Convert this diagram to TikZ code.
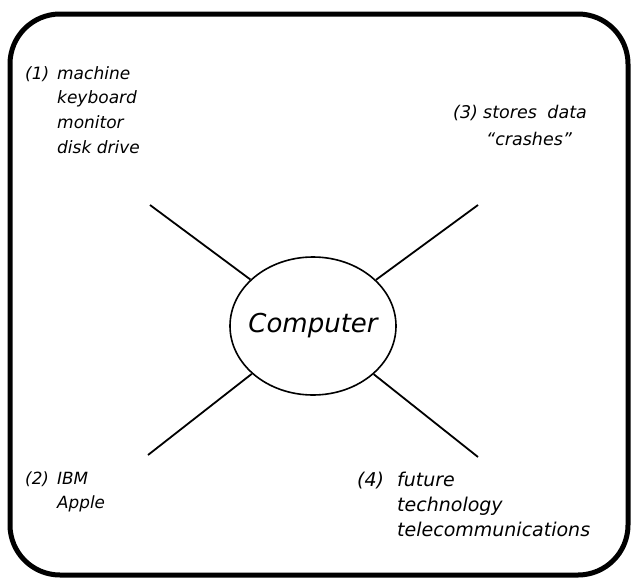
\documentclass[tikz,border=0pt]{standalone}
\usepackage{fontspec}
\setmainfont{DejaVu Sans}
\usetikzlibrary{shapes.geometric}
\tikzset{
  lbl/.style={anchor=base west, inner sep=0pt, font=\fontsize{17}{24.8}\selectfont\itshape},
  conn/.style={line width=1.8pt},
}
\newcommand{\grp}[2]{\begin{tabular}[t]{@{}p{#1}@{}l@{}}#2\end{tabular}}
\begin{document}
\begin{tikzpicture}[x=1pt,y=-1pt]
\useasboundingbox (0,0) rectangle (632,579);
\draw[line width=5pt, rounded corners=50pt] (10,14) rectangle (628,575);
\node[ellipse, draw, line width=1.6pt, minimum width=166pt, minimum height=138pt, inner sep=0pt, font=\fontsize{26}{28}\selectfont\itshape] (C) at (313,326) {\makebox[0pt]{Computer}};
\coordinate (tl) at (150,205);
\coordinate (tr) at (478,205);
\coordinate (bl) at (148,455);
\coordinate (br) at (478,457);
\draw[conn] (tl) -- (C);
\draw[conn] (tr) -- (C);
\draw[conn] (bl) -- (C);
\draw[conn] (br) -- (C);
\node[lbl] (g1) at (25,79) {\grp{32pt}{(1) & machine\\ & keyboard\\ & monitor\\ & disk drive}};
\node[lbl, font=\fontsize{17.5}{27}\selectfont\itshape] (g3) at (453,118) {\grp{30pt}{(3) & stores\hspace{0.6em}data\\ & \hspace{3pt}“crashes”}};
\node[lbl, font=\fontsize{16.8}{24.8}\selectfont\itshape] (g2) at (25,484) {\grp{32pt}{(2) & IBM\\ & Apple}};
\node[lbl, font=\fontsize{19}{25}\selectfont\itshape] (g4) at (357,486) {\grp{40pt}{(4) & future\\ & technology\\ & telecommunications}};
\end{tikzpicture}
\end{document}
